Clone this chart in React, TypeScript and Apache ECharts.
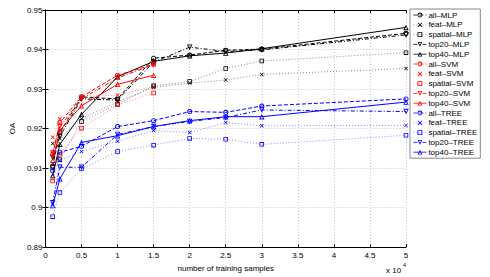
import React, { useEffect, useRef } from "react";
import * as echarts from "echarts";

const xValues = [0.1, 0.2, 0.5, 1, 1.5, 2, 2.5, 3, 5];
const svmX = [0.1, 0.2, 0.5, 1, 1.5];

const allMLP = [0.9105, 0.919, 0.928, 0.9275, 0.9378, 0.9386, 0.9398, 0.9401, 0.9441];
const featMLP = [0.9162, 0.9175, 0.9225, 0.9268, 0.9304, 0.9315, 0.9323, 0.9337, 0.9352];
const spatialMLP = [0.9102, 0.9121, 0.9218, 0.9262, 0.9308, 0.9319, 0.9352, 0.9371, 0.9392];
const top20MLP = [0.9127, 0.918, 0.9275, 0.9272, 0.9368, 0.9406, 0.9395, 0.9399, 0.9437];
const top40MLP = [0.9081, 0.916, 0.9236, 0.9331, 0.937, 0.9384, 0.9391, 0.9402, 0.9456];

const allSVM = [0.9135, 0.9215, 0.928, 0.9335, 0.9362];
const featSVM = [0.9178, 0.9225, 0.9282, 0.9285, 0.9306];
const spatialSVM = [0.9067, 0.9135, 0.9201, 0.926, 0.929];
const top20SVM = [0.9138, 0.9205, 0.9275, 0.9328, 0.9362];
const top40SVM = [0.912, 0.9195, 0.9258, 0.9312, 0.9335];

const allTREE = [0.9093, 0.914, 0.9155, 0.9205, 0.922, 0.9243, 0.9241, 0.9257, 0.9275];
const featTREE = [0.901, 0.9119, 0.9142, 0.9168, 0.9195, 0.919, 0.9215, 0.9207, 0.9208];
const spatialTREE = [0.8977, 0.9038, 0.9098, 0.9142, 0.9158, 0.9175, 0.9173, 0.916, 0.9183];
const top20TREE = [0.9012, 0.9102, 0.9102, 0.9185, 0.9205, 0.9218, 0.9228, 0.9247, 0.9243];
const top40TREE = [0.9005, 0.9073, 0.9165, 0.9182, 0.9205, 0.922, 0.923, 0.923, 0.9267];

const yTicks = { min: 0.89, max: 0.95, interval: 0.01 };
const xTicks = { min: 0, max: 5, interval: 0.5 };

const FONT = "'Liberation Sans', Arial, Helvetica, sans-serif";

// hollow marker outlines drawn as filled rings (thin outlines)
const SYM_X = "path://M0,1.2L1.2,0L5,3.8L8.8,0L10,1.2L6.2,5L10,8.8L8.8,10L5,6.2L1.2,10L0,8.8L3.8,5Z";
const SYM_CIRCLE =
  "path://M5,0A5,5,0,1,1,5,10A5,5,0,1,1,5,0Z M5,1.7A3.3,3.3,0,1,0,5,8.3A3.3,3.3,0,1,0,5,1.7Z";
const SYM_RECT = "path://M0,0L10,0L10,10L0,10Z M1.8,1.8L1.8,8.2L8.2,8.2L8.2,1.8Z";
const SYM_UP = "path://M5,0L10,9L0,9Z M5,3.2L2.4,7.6L7.6,7.6Z";
const SYM_DOWN = "path://M0,0L10,0L5,9Z M2.4,1.4L5,5.8L7.6,1.4Z";

type Kind = "all" | "feat" | "spatial" | "top20" | "top40";

const palette: Record<string, { base: string; light: string }> = {
  MLP: { base: "#000000", light: "#8a8a8a" },
  SVM: { base: "#ff0000", light: "#ff8a8a" },
  TREE: { base: "#0000ff", light: "#8a8aff" },
};

function makeSeries(name: string, kind: Kind, model: string, xs: number[], ys: number[]) {
  const c = palette[model];
  const lineColor = kind === "feat" || kind === "spatial" ? c.light : c.base;
  const dash: any =
    kind === "all" ? [4, 2] : kind === "top20" ? [4, 2, 1, 2] : kind === "top40" ? "solid" : [1, 2];
  let symbol = SYM_CIRCLE;
  let size = 5;
  if (kind === "feat") { symbol = SYM_X; size = 4; }
  if (kind === "spatial") { symbol = SYM_RECT; size = 4.5; }
  if (kind === "top20") { symbol = SYM_DOWN; size = 5.5; }
  if (kind === "top40") { symbol = SYM_UP; size = 5.5; }
  return {
    name,
    type: "line",
    data: xs.map((x, i) => [x, ys[i]]),
    symbol,
    symbolSize: size,
    showSymbol: true,
    lineStyle: { color: lineColor, width: 1, type: dash },
    itemStyle: { color: c.base, borderWidth: 0 },
    emphasis: { disabled: true },
    z: 3,
  };
}

export default function App() {
  const ref = useRef<HTMLDivElement>(null);
  useEffect(() => {
    document.body.style.margin = "0";
    if (!ref.current) return;
    const chart = echarts.init(ref.current, undefined, { renderer: "svg" });
    const series = [
      makeSeries("all\u2013MLP", "all", "MLP", xValues, allMLP),
      makeSeries("feat\u2013MLP", "feat", "MLP", xValues, featMLP),
      makeSeries("spatial\u2013MLP", "spatial", "MLP", xValues, spatialMLP),
      makeSeries("top20\u2013MLP", "top20", "MLP", xValues, top20MLP),
      makeSeries("top40\u2013MLP", "top40", "MLP", xValues, top40MLP),
      makeSeries("all\u2013SVM", "all", "SVM", svmX, allSVM),
      makeSeries("feat\u2013SVM", "feat", "SVM", svmX, featSVM),
      makeSeries("spatial\u2013SVM", "spatial", "SVM", svmX, spatialSVM),
      makeSeries("top20\u2013SVM", "top20", "SVM", svmX, top20SVM),
      makeSeries("top40\u2013SVM", "top40", "SVM", svmX, top40SVM),
      makeSeries("all\u2013TREE", "all", "TREE", xValues, allTREE),
      makeSeries("feat\u2013TREE", "feat", "TREE", xValues, featTREE),
      makeSeries("spatial\u2013TREE", "spatial", "TREE", xValues, spatialTREE),
      makeSeries("top20\u2013TREE", "top20", "TREE", xValues, top20TREE),
      makeSeries("top40\u2013TREE", "top40", "TREE", xValues, top40TREE),
    ];
    const fmt = (v: number) => String(parseFloat(v.toFixed(2)));
    const axisLine = { show: true, lineStyle: { color: "#000", width: 1 } };
    const tickIn = { show: true, inside: true, length: 3, lineStyle: { color: "#000" } };
    chart.setOption({
      animation: false,
      backgroundColor: "#fff",
      textStyle: { fontFamily: FONT },
      grid: { left: 30, right: 84, top: 10, bottom: 27, containLabel: false },
      xAxis: [
        {
          type: "value",
          ...xTicks,
          position: "bottom",
          axisLine,
          axisTick: tickIn,
          axisLabel: { color: "#000", fontSize: 8, fontFamily: FONT, margin: 4, formatter: fmt },
          splitLine: { show: true, lineStyle: { color: "#c8c8c8", type: [1, 2], width: 1 } },
          name: "number of training samples",
          nameLocation: "middle",
          nameGap: 13,
          nameTextStyle: { color: "#000", fontSize: 8, fontFamily: FONT },
        },
        {
          type: "value",
          ...xTicks,
          position: "top",
          axisLine,
          axisTick: tickIn,
          axisLabel: { show: false },
          splitLine: { show: false },
        },
      ],
      yAxis: [
        {
          type: "value",
          ...yTicks,
          position: "left",
          axisLine,
          axisTick: tickIn,
          axisLabel: { color: "#000", fontSize: 8, fontFamily: FONT, margin: 3, formatter: fmt },
          splitLine: { show: true, lineStyle: { color: "#c8c8c8", type: [1, 2], width: 1 } },
          name: "OA",
          nameLocation: "middle",
          nameGap: 22,
          nameRotate: 90,
          nameTextStyle: { color: "#000", fontSize: 8, fontFamily: FONT },
        },
        {
          type: "value",
          ...yTicks,
          position: "right",
          axisLine,
          axisTick: tickIn,
          axisLabel: { show: false },
          splitLine: { show: false },
        },
      ],
      legend: {
        orient: "vertical",
        left: 410,
        top: 9,
        padding: [2, 3, 2, 3],
        itemWidth: 13,
        itemHeight: 6,
        itemGap: 1.8,
        borderColor: "#888",
        borderWidth: 1,
        backgroundColor: "#fff",
        itemStyle: { borderWidth: 0 },
        lineStyle: { width: 0.8 },
        textStyle: { fontSize: 8, fontFamily: FONT, color: "#000", lineHeight: 8, padding: [0, 0, 0, -3] },
        selectedMode: false,
      },
      graphic: [
        {
          type: "text",
          left: 386,
          top: 266,
          style: { text: "x 10", fontSize: 8, fontFamily: FONT, fill: "#000" },
        },
        {
          type: "text",
          left: 403,
          top: 262,
          style: { text: "4", fontSize: 5.5, fontFamily: FONT, fill: "#000" },
        },
      ],
      series,
    });
    return () => chart.dispose();
  }, []);
  return <div ref={ref} style={{ width: 490, height: 277 }} />;
}
